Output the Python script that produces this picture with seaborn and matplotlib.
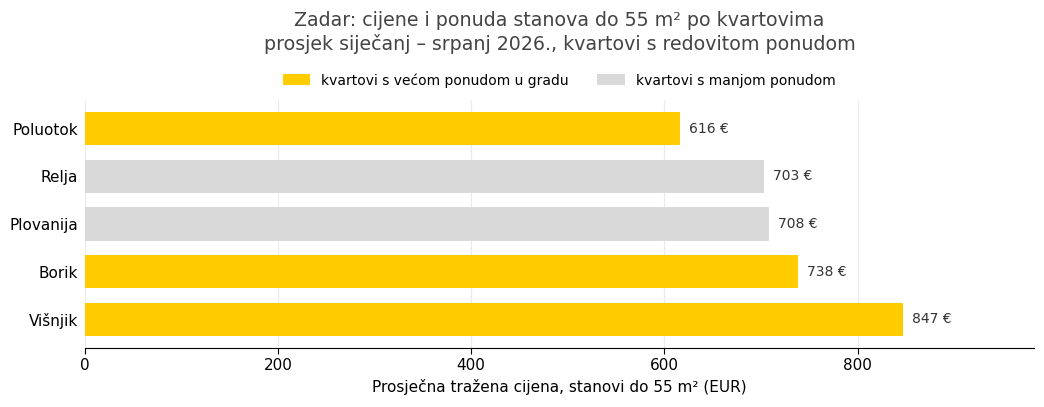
import pandas as pd
import seaborn as sns
import matplotlib.pyplot as plt

kvartovi = ["Poluotok", "Relja", "Plovanija", "Borik", "Višnjik"]
cijene = [616, 703, 708, 738, 847]
skupine = ["kvartovi s većom ponudom u gradu", "kvartovi s manjom ponudom",
           "kvartovi s manjom ponudom", "kvartovi s većom ponudom u gradu",
           "kvartovi s većom ponudom u gradu"]

df = pd.DataFrame({"kvart": kvartovi, "cijena": cijene, "skupina": skupine})

sns.set_style("white")
plt.rcParams['font.family'] = ['DejaVu Sans']
plt.rcParams['text.color'] = 'black'
plt.rcParams['axes.labelcolor'] = 'black'
plt.rcParams['xtick.color'] = 'black'
plt.rcParams['ytick.color'] = 'black'

boje = {"kvartovi s većom ponudom u gradu": "#FFCC00",
        "kvartovi s manjom ponudom": "#D9D9D9"}

fig, ax = plt.subplots(figsize=(10.44, 4.07), dpi=100)
sns.barplot(data=df, x="cijena", y="kvart", hue="skupina", palette=boje,
            dodge=False, width=0.7, ax=ax, order=kvartovi,
            hue_order=list(boje.keys()), saturation=1, linewidth=0)

for cont in ax.containers:
    ax.bar_label(cont, labels=[f"{w:.0f} €" if w == w and w > 0 else "" for w in cont.datavalues],
                 padding=6.5, fontsize=10, color="#333333")

ax.set_xlim(0, 982)
ax.set_ylim(4.6, -0.6)
ax.grid(axis="x", color="#EBEBEB", linewidth=0.8)
ax.set_axisbelow(True)
for s in ["top", "right", "left"]:
    ax.spines[s].set_visible(False)
ax.spines["bottom"].set_color("black")
ax.tick_params(axis="x", bottom=True, length=4, labelsize=11)
ax.tick_params(axis="y", left=False, length=0, labelsize=11, pad=4.5)
ax.set_ylabel("")
ax.set_xlabel("Prosječna tražena cijena, stanovi do 55 m² (EUR)", fontsize=11)

ax.legend(loc="lower center", bbox_to_anchor=(0.5, 1.0), ncol=2, frameon=False,
          fontsize=10, handlelength=2, handleheight=0.8)
fig.suptitle("Zadar: cijene i ponuda stanova do 55 m² po kvartovima\n"
             "prosjek siječanj – srpanj 2026., kvartovi s redovitom ponudom",
             fontsize=13.7, color="#444444", x=0.536, y=0.972)

fig.subplots_adjust(left=0.081, right=0.99, top=0.754, bottom=0.145)
fig.savefig("out.png", dpi=100)
